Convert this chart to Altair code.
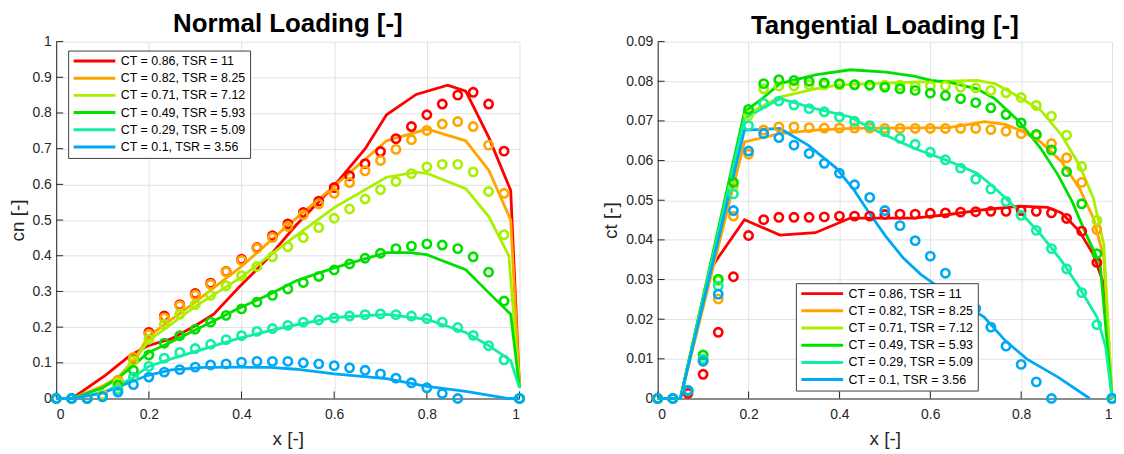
import altair as alt
import pandas as pd

SERIES = ["CT = 0.86, TSR = 11", "CT = 0.82, TSR = 8.25", "CT = 0.71, TSR = 7.12",
          "CT = 0.49, TSR = 5.93", "CT = 0.29, TSR = 5.09", "CT = 0.1, TSR = 3.56"]
COLORS = ["#FF0000", "#FFA500", "#A8F000", "#00E000", "#10F0A0", "#00A8F5"]

XTICKS = [0, 0.2, 0.4, 0.6, 0.8, 1]
CN_TICKS = [0, 0.1, 0.2, 0.3, 0.4, 0.5, 0.6, 0.7, 0.8, 0.9, 1]
CT_TICKS = [0, 0.01, 0.02, 0.03, 0.04, 0.05, 0.06, 0.07, 0.08, 0.09]

# marker stations (x/R)
XM = [0, 0.0333, 0.0667, 0.1, 0.1333, 0.1667, 0.2, 0.2333, 0.2667, 0.3, 0.3333,
      0.3667, 0.4, 0.4333, 0.4667, 0.5, 0.5333, 0.5667, 0.6, 0.6333, 0.6667,
      0.7, 0.7333, 0.7667, 0.8, 0.8333, 0.8667, 0.9, 0.9333, 0.9667, 1.0]

# ---- Normal loading, markers ----
CN_M_086 = [0, 0, 0, 0.01, 0.05, 0.11, 0.185, 0.231, 0.263, 0.294, 0.323, 0.356, 0.39, 0.423, 0.456, 0.489,
            0.521, 0.553, 0.591, 0.624, 0.658, 0.692, 0.728, 0.762, 0.795, 0.825, 0.85, 0.858, 0.825, 0.693, 0]
CN_M_082 = [0, 0, 0, 0.01, 0.051, 0.115, 0.18, 0.226, 0.26, 0.29, 0.32, 0.355, 0.387, 0.421, 0.451, 0.482,
            0.515, 0.545, 0.575, 0.605, 0.638, 0.667, 0.698, 0.725, 0.751, 0.769, 0.776, 0.762, 0.71, 0.575, 0]
CN_M_071 = [0, 0, 0, 0.01, 0.045, 0.106, 0.166, 0.208, 0.236, 0.263, 0.289, 0.316, 0.344, 0.37, 0.397, 0.425,
            0.451, 0.479, 0.505, 0.531, 0.559, 0.585, 0.608, 0.63, 0.649, 0.656, 0.656, 0.635, 0.58, 0.459, 0]
CN_M_049 = [0, 0, 0, 0.005, 0.037, 0.079, 0.122, 0.155, 0.176, 0.194, 0.214, 0.233, 0.251, 0.27, 0.289, 0.307,
            0.325, 0.342, 0.36, 0.377, 0.393, 0.407, 0.42, 0.427, 0.433, 0.43, 0.42, 0.397, 0.354, 0.273, 0]
CN_M_029 = [0, 0, 0, 0.005, 0.025, 0.06, 0.09, 0.113, 0.129, 0.14, 0.152, 0.165, 0.176, 0.188, 0.196, 0.205,
            0.214, 0.22, 0.226, 0.231, 0.235, 0.237, 0.235, 0.231, 0.224, 0.214, 0.199, 0.177, 0.148, 0.108, 0]
CN_M_010 = [0, 0, 0, 0.005, 0.018, 0.039, 0.06, 0.074, 0.081, 0.088, 0.094, 0.097, 0.102, 0.104, 0.104, 0.104,
            0.1, 0.097, 0.092, 0.086, 0.079, 0.069, 0.057, 0.044, 0.03, 0.014, 0.0, None, None, None, 0]

# ---- Normal loading, lines ----
CN_L_086_X = [0, 0.034, 0.106, 0.159, 0.198, 0.248, 0.30, 0.34, 0.397, 0.454, 0.518, 0.6, 0.667, 0.713, 0.777, 0.845, 0.884, 0.934, 0.981, 1.0]
CN_L_086_Y = [0, 0, 0.065, 0.12, 0.148, 0.167, 0.204, 0.236, 0.315, 0.389, 0.486, 0.596, 0.70, 0.795, 0.852, 0.878, 0.861, 0.731, 0.583, 0.03]
CN_L_082_X = [0, 0.034, 0.1, 0.134, 0.17, 0.2, 0.3, 0.4, 0.5, 0.6, 0.713, 0.8, 0.884, 0.934, 0.981, 1.0]
CN_L_082_Y = [0, 0, 0.035, 0.06, 0.112, 0.175, 0.27, 0.37, 0.485, 0.595, 0.722, 0.755, 0.722, 0.639, 0.5, 0.03]
CN_L_071_X = [0, 0.034, 0.1, 0.133, 0.167, 0.2, 0.25, 0.3, 0.4, 0.48, 0.6, 0.713, 0.777, 0.8, 0.884, 0.934, 0.977, 1.0]
CN_L_071_Y = [0, 0, 0.03, 0.055, 0.105, 0.163, 0.21, 0.258, 0.34, 0.42, 0.535, 0.62, 0.634, 0.631, 0.588, 0.509, 0.4, 0.03]
CN_L_049_X = [0, 0.034, 0.1, 0.141, 0.198, 0.248, 0.319, 0.39, 0.461, 0.518, 0.6, 0.713, 0.763, 0.8, 0.884, 0.934, 0.981, 1.0]
CN_L_049_Y = [0, 0, 0.03, 0.065, 0.128, 0.158, 0.204, 0.25, 0.292, 0.33, 0.366, 0.409, 0.409, 0.403, 0.361, 0.296, 0.236, 0.03]
CN_L_029_X = [0, 0.034, 0.106, 0.163, 0.198, 0.248, 0.319, 0.39, 0.461, 0.518, 0.6, 0.713, 0.8, 0.884, 0.934, 0.981, 1.0]
CN_L_029_Y = [0, 0, 0.019, 0.056, 0.089, 0.111, 0.139, 0.167, 0.19, 0.206, 0.227, 0.236, 0.222, 0.185, 0.148, 0.106, 0.03]
CN_L_010_X = [0, 0.034, 0.1, 0.198, 0.248, 0.319, 0.39, 0.461, 0.518, 0.6, 0.713, 0.8, 0.884, 0.977, 1.0]
CN_L_010_Y = [0, 0, 0.015, 0.065, 0.08, 0.087, 0.088, 0.087, 0.082, 0.069, 0.056, 0.034, 0.02, 0.0, 0.0]

# ---- Tangential loading, markers ----
CT_M_086 = [0, 0, 0.0013, 0.0061, 0.0167, 0.0307, 0.0411, 0.0451, 0.0457, 0.0457, 0.0457, 0.0458, 0.046, 0.046, 0.046, 0.0464,
            0.0465, 0.0465, 0.0467, 0.0468, 0.047, 0.0471, 0.0472, 0.0472, 0.0474, 0.0472, 0.0468, 0.0454, 0.0422, 0.0343, 0]
CT_M_082 = [0, 0, 0.002, 0.0094, 0.0251, 0.046, 0.0616, 0.0677, 0.0685, 0.0685, 0.0683, 0.0682, 0.0682, 0.0682, 0.0682, 0.0681,
            0.0681, 0.0681, 0.0681, 0.0681, 0.0681, 0.0681, 0.0678, 0.0674, 0.0668, 0.0664, 0.0643, 0.0607, 0.0545, 0.0426, 0]
CT_M_071 = [0, 0, 0.002, 0.0109, 0.0297, 0.0535, 0.0714, 0.0781, 0.0788, 0.0788, 0.0791, 0.0791, 0.0791, 0.0791, 0.079, 0.079,
            0.079, 0.0788, 0.0788, 0.0788, 0.0785, 0.0783, 0.0777, 0.0771, 0.0759, 0.0739, 0.0712, 0.0664, 0.0585, 0.0449, 0]
CT_M_049 = [0, 0, 0.002, 0.011, 0.0301, 0.0545, 0.0729, 0.0794, 0.0804, 0.0802, 0.08, 0.0796, 0.0794, 0.0791, 0.079, 0.0785,
            0.0781, 0.0777, 0.077, 0.0764, 0.0756, 0.0746, 0.0733, 0.0716, 0.0695, 0.0666, 0.0627, 0.0572, 0.0491, 0.0365, 0]
CT_M_029 = [0, 0, 0.002, 0.01, 0.0284, 0.0516, 0.0688, 0.0744, 0.075, 0.074, 0.0731, 0.0723, 0.071, 0.0699, 0.0688, 0.0673,
            0.0656, 0.0641, 0.0621, 0.0602, 0.0581, 0.0553, 0.0528, 0.0497, 0.0462, 0.0424, 0.0378, 0.0327, 0.0267, 0.0186, 0]
CT_M_010 = [0, 0, 0.002, 0.0094, 0.0263, 0.0474, 0.0624, 0.0668, 0.0658, 0.0639, 0.0618, 0.0593, 0.0568, 0.0539, 0.0507, 0.0474,
            0.0436, 0.0398, 0.0359, 0.0316, 0.027, 0.0227, 0.018, 0.0132, 0.0086, 0.0042, 0.0, None, None, None, 0]

# ---- Tangential loading, lines ----
CT_L_086_X = [0, 0.05, 0.114, 0.133, 0.191, 0.269, 0.347, 0.424, 0.564, 0.641, 0.719, 0.796, 0.858, 0.889, 0.928, 0.959, 0.982, 1.0]
CT_L_086_Y = [0, 0, 0.0322, 0.0355, 0.0451, 0.0412, 0.0418, 0.0455, 0.0455, 0.0464, 0.0476, 0.0485, 0.0482, 0.0468, 0.0422, 0.0363, 0.0288, 0]
CT_L_082_X = [0, 0.05, 0.191, 0.269, 0.347, 0.424, 0.641, 0.695, 0.719, 0.765, 0.804, 0.843, 0.889, 0.928, 0.959, 0.982, 1.0]
CT_L_082_Y = [0, 0, 0.0647, 0.0668, 0.0677, 0.0681, 0.0683, 0.0693, 0.0698, 0.0691, 0.0673, 0.0647, 0.0597, 0.0531, 0.0455, 0.0355, 0]
CT_L_071_X = [0, 0.05, 0.191, 0.269, 0.347, 0.4, 0.564, 0.641, 0.703, 0.742, 0.796, 0.843, 0.889, 0.928, 0.959, 0.982, 1.0]
CT_L_071_Y = [0, 0, 0.0714, 0.076, 0.0781, 0.0791, 0.0798, 0.08, 0.0802, 0.0794, 0.076, 0.0727, 0.0664, 0.0589, 0.0505, 0.0388, 0]
CT_L_049_X = [0, 0.05, 0.191, 0.23, 0.269, 0.347, 0.424, 0.502, 0.564, 0.602, 0.641, 0.703, 0.742, 0.796, 0.843, 0.881, 0.912, 0.943, 0.974, 1.0]
CT_L_049_Y = [0, 0, 0.0723, 0.0756, 0.0794, 0.0816, 0.0829, 0.0823, 0.0813, 0.0802, 0.0798, 0.0781, 0.0756, 0.0698, 0.0631, 0.0564, 0.0497, 0.0414, 0.0338, 0]
CT_L_029_X = [0, 0.05, 0.191, 0.23, 0.269, 0.347, 0.424, 0.463, 0.502, 0.564, 0.633, 0.703, 0.742, 0.796, 0.843, 0.889, 0.928, 0.967, 0.986, 1.0]
CT_L_029_Y = [0, 0, 0.0706, 0.0731, 0.0756, 0.0731, 0.071, 0.0685, 0.0664, 0.0631, 0.0602, 0.0568, 0.0531, 0.0472, 0.0414, 0.0347, 0.028, 0.0205, 0.013, 0]
CT_L_010_X = [0, 0.05, 0.191, 0.238, 0.269, 0.331, 0.393, 0.432, 0.463, 0.502, 0.54, 0.579, 0.61, 0.68, 0.719, 0.765, 0.812, 0.881, 0.951]
CT_L_010_Y = [0, 0, 0.0677, 0.0679, 0.0681, 0.0639, 0.0581, 0.0526, 0.0472, 0.0409, 0.0355, 0.0313, 0.0288, 0.0234, 0.0205, 0.0146, 0.01, 0.0054, 0]

FONT = "Liberation Sans"
INK = "#262626"


def marker_table(series_values):
    rows = []
    for name, vals in zip(SERIES, series_values):
        for x, y in zip(XM, vals):
            if y is not None:
                rows.append({"x": x, "y": y, "series": name})
    return pd.DataFrame(rows)


def line_table(xs_list, ys_list):
    rows = []
    for name, xs, ys in zip(SERIES, xs_list, ys_list):
        for i, (x, y) in enumerate(zip(xs, ys)):
            rows.append({"x": x, "y": y, "series": name, "i": i})
    return pd.DataFrame(rows)


def panel(lines, pts, ytitle, title, ydom, yticks, w, h, legx, legy, toff, ytitle_x):
    x_enc = alt.X("x:Q", scale=alt.Scale(domain=[0, 1], nice=False, zero=False),
                  axis=alt.Axis(values=XTICKS, format="~g", title="x [-]", titleY=46,
                                titleBaseline="alphabetic", labelPadding=9))
    y_enc = alt.Y("y:Q", scale=alt.Scale(domain=ydom, nice=False, zero=False),
                  axis=alt.Axis(values=yticks, format="~g", title=ytitle, titleX=ytitle_x,
                                titleBaseline="middle", labelPadding=5))
    color_scale = alt.Scale(domain=SERIES, range=COLORS)

    # inward-pointing axis tick marks, placed at the tick values through the scales
    bottom_ticks = pd.DataFrame({"x": XTICKS, "y": [ydom[0]] * len(XTICKS)})
    left_ticks = pd.DataFrame({"x": [0] * len(yticks), "y": yticks})
    tick_b = alt.Chart(bottom_ticks).mark_tick(
        orient="vertical", size=7, thickness=1, yOffset=-3.5, color=INK, opacity=1
    ).encode(x=x_enc, y=y_enc)
    tick_l = alt.Chart(left_ticks).mark_tick(
        orient="horizontal", size=7, thickness=1, xOffset=3.5, color=INK, opacity=1
    ).encode(x=x_enc, y=y_enc)

    line = alt.Chart(lines).mark_line(strokeWidth=2.8).encode(
        x=x_enc, y=y_enc,
        color=alt.Color("series:N", scale=color_scale, sort=SERIES,
                        legend=alt.Legend(orient="none", legendX=legx, legendY=legy, title=None)),
        order="i:Q",
        detail="series:N",
    )
    points = alt.Chart(pts).mark_point(filled=False, size=70, strokeWidth=2.6, opacity=1).encode(
        x=x_enc, y=y_enc,
        color=alt.Color("series:N", scale=color_scale, sort=SERIES, legend=None),
    )
    return alt.layer(tick_b, tick_l, line, points).properties(
        width=w, height=h,
        title=alt.TitleParams(title, fontSize=26, fontWeight="bold", font=FONT, color="black",
                              anchor="middle", offset=toff),
    )


cn_lines = line_table([CN_L_086_X, CN_L_082_X, CN_L_071_X, CN_L_049_X, CN_L_029_X, CN_L_010_X],
                      [CN_L_086_Y, CN_L_082_Y, CN_L_071_Y, CN_L_049_Y, CN_L_029_Y, CN_L_010_Y])
cn_pts = marker_table([CN_M_086, CN_M_082, CN_M_071, CN_M_049, CN_M_029, CN_M_010])
ct_lines = line_table([CT_L_086_X, CT_L_082_X, CT_L_071_X, CT_L_049_X, CT_L_029_X, CT_L_010_X],
                      [CT_L_086_Y, CT_L_082_Y, CT_L_071_Y, CT_L_049_Y, CT_L_029_Y, CT_L_010_Y])
ct_pts = marker_table([CT_M_086, CT_M_082, CT_M_071, CT_M_049, CT_M_029, CT_M_010])

left = panel(cn_lines, cn_pts, "cn [-]", "Normal Loading [-]", [0, 1], CN_TICKS,
             466, 359, 12, 9, -2.5, -39)
right = panel(ct_lines, ct_pts, "ct [-]", "Tangential Loading [-]", [0, 0.09], CT_TICKS,
              457, 359, 139, 243, -4.5, -47)

chart = alt.hconcat(left, right, spacing=73).resolve_scale(color="independent").resolve_legend(
    color="independent"
).properties(
    padding={"left": 0.5, "top": 1.5, "right": -6, "bottom": 0}
).configure_view(stroke=None).configure_axis(
    labelFont=FONT, labelFontSize=14, labelColor=INK,
    titleFont=FONT, titleFontSize=19, titleFontWeight="normal", titleColor=INK,
    domainColor=INK, domainWidth=1, ticks=False,
    gridColor="#e2e2e2", gridWidth=1,
).configure_legend(
    fillColor="white", strokeColor="#404040", strokeWidth=1, padding=4, cornerRadius=0,
    symbolType="stroke", symbolStrokeWidth=3, symbolSize=1764, symbolOffset=0,
    clipHeight=13, rowPadding=4.3, labelOffset=4,
    labelFont=FONT, labelFontSize=12.5, labelColor="black", labelLimit=300,
).configure_title(font=FONT)

chart.save("out.html", embed_options={"renderer": "svg", "actions": False})
